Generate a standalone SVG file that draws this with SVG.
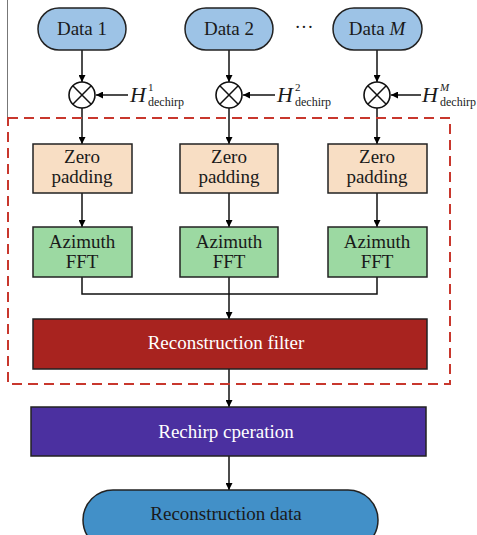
<svg xmlns="http://www.w3.org/2000/svg" width="477" height="535" viewBox="0 0 477 535">
<defs>
<marker id="ah" viewBox="0 0 10 10" refX="10" refY="5" markerWidth="7" markerHeight="7" markerUnits="userSpaceOnUse" orient="auto">
<path d="M0,0 L10,5 L0,10 z" fill="#000"/>
</marker>
<style>
text{font-family:"Liberation Serif","Times New Roman",serif;fill:#1a1a1a;text-anchor:middle}
.t{font-size:19px}
.pill{fill:#9DC3E6;stroke:#222;stroke-width:1.5}
.zp{fill:#F8DEC4;stroke:#222;stroke-width:1.5}
.fft{fill:#9CD9A2;stroke:#222;stroke-width:1.5}
.mul{fill:#fff;stroke:#111;stroke-width:1.6}
.c{stroke:#111;stroke-width:1.5;fill:none}
.ca{stroke:#111;stroke-width:1.5;fill:none;marker-end:url(#ah)}
.H{font-style:italic;font-size:22px;text-anchor:start}
.sup{font-size:11px;text-anchor:start}
.subt{font-size:12px;text-anchor:start}
</style>
</defs>
<rect width="477" height="535" fill="#fff"/>
<line x1="7.5" y1="0" x2="7.5" y2="117" stroke="#777" stroke-width="1"/>

<g id="connectors">
<line class="ca" x1="82" y1="50" x2="82" y2="82"/>
<line class="ca" x1="229" y1="50" x2="229" y2="82"/>
<line class="ca" x1="377" y1="50" x2="377" y2="82"/>
<line class="ca" x1="128" y1="95" x2="96" y2="95"/>
<line class="ca" x1="275" y1="95" x2="243" y2="95"/>
<line class="ca" x1="421" y1="95" x2="391" y2="95"/>
<line class="ca" x1="82" y1="108" x2="82" y2="144"/>
<line class="ca" x1="229" y1="108" x2="229" y2="144"/>
<line class="ca" x1="377" y1="108" x2="377" y2="144"/>
<line class="ca" x1="82" y1="193" x2="82" y2="227"/>
<line class="ca" x1="229" y1="193" x2="229" y2="227"/>
<line class="ca" x1="377" y1="193" x2="377" y2="227"/>
<polyline class="c" points="82,277 82,294 377,294 377,277"/>
<line class="ca" x1="229" y1="277" x2="229" y2="319"/>
<line class="ca" x1="229" y1="369" x2="229" y2="407"/>
<line class="ca" x1="229" y1="456" x2="229" y2="490"/>
</g>

<rect id="dashed-region" x="8" y="118" width="442" height="266" fill="none" stroke="#C8372D" stroke-width="2" stroke-dasharray="10,6"/>

<g id="data1"><rect class="pill" x="38" y="8" width="88" height="42" rx="21"/><text class="t" x="82" y="35">Data 1</text></g>
<g id="data2"><rect class="pill" x="185" y="8" width="88" height="42" rx="21"/><text class="t" x="229" y="35">Data 2</text></g>
<g id="dataM"><rect class="pill" x="333" y="8" width="89" height="42" rx="21"/><text class="t" x="377" y="35">Data <tspan font-style="italic">M</tspan></text></g>
<text class="t" x="304" y="33">···</text>

<g id="mul1"><circle class="mul" cx="82" cy="95" r="13"/><path class="c" d="M72.8,85.8 L91.2,104.2 M91.2,85.8 L72.8,104.2"/></g>
<g id="mul2"><circle class="mul" cx="229" cy="95" r="13"/><path class="c" d="M219.8,85.8 L238.2,104.2 M238.2,85.8 L219.8,104.2"/></g>
<g id="mulM"><circle class="mul" cx="377" cy="95" r="13"/><path class="c" d="M367.8,85.8 L386.2,104.2 M386.2,85.8 L367.8,104.2"/></g>

<g id="h1"><text class="H" x="130" y="102">H</text><text class="sup" x="148" y="91">1</text><text class="subt" x="148" y="106">dechirp</text></g>
<g id="h2"><text class="H" x="277" y="102">H</text><text class="sup" x="295" y="91">2</text><text class="subt" x="295" y="106">dechirp</text></g>
<g id="hM"><text class="H" x="422" y="102">H</text><text class="sup" x="440" y="91" font-style="italic">M</text><text class="subt" x="440" y="106">dechirp</text></g>

<g id="zp1"><rect class="zp" x="33" y="144" width="99" height="49"/><text class="t" x="82" y="163">Zero</text><text class="t" x="82" y="183">padding</text></g>
<g id="zp2"><rect class="zp" x="180" y="144" width="98" height="49"/><text class="t" x="229" y="163">Zero</text><text class="t" x="229" y="183">padding</text></g>
<g id="zp3"><rect class="zp" x="328" y="144" width="99" height="49"/><text class="t" x="377" y="163">Zero</text><text class="t" x="377" y="183">padding</text></g>

<g id="fft1"><rect class="fft" x="33" y="227" width="99" height="50"/><text class="t" x="82" y="248">Azimuth</text><text class="t" x="82" y="268">FFT</text></g>
<g id="fft2"><rect class="fft" x="180" y="227" width="98" height="50"/><text class="t" x="229" y="248">Azimuth</text><text class="t" x="229" y="268">FFT</text></g>
<g id="fft3"><rect class="fft" x="328" y="227" width="99" height="50"/><text class="t" x="377" y="248">Azimuth</text><text class="t" x="377" y="268">FFT</text></g>

<g id="recon-filter"><rect x="33" y="319" width="394" height="50" fill="#A8231F" stroke="#222" stroke-width="1.5"/><text class="t" x="226" y="349" style="fill:#fff">Reconstruction filter</text></g>
<g id="rechirp"><rect x="31" y="407" width="395" height="49" fill="#4B30A0" stroke="#222" stroke-width="1.5"/><text class="t" x="226" y="438" style="fill:#fff">Rechirp cperation</text></g>
<g id="recon-data"><rect x="83" y="490" width="295" height="60" rx="30" fill="#4290C8" stroke="#222" stroke-width="1.5"/><text class="t" x="226" y="520">Reconstruction data</text></g>
</svg>
